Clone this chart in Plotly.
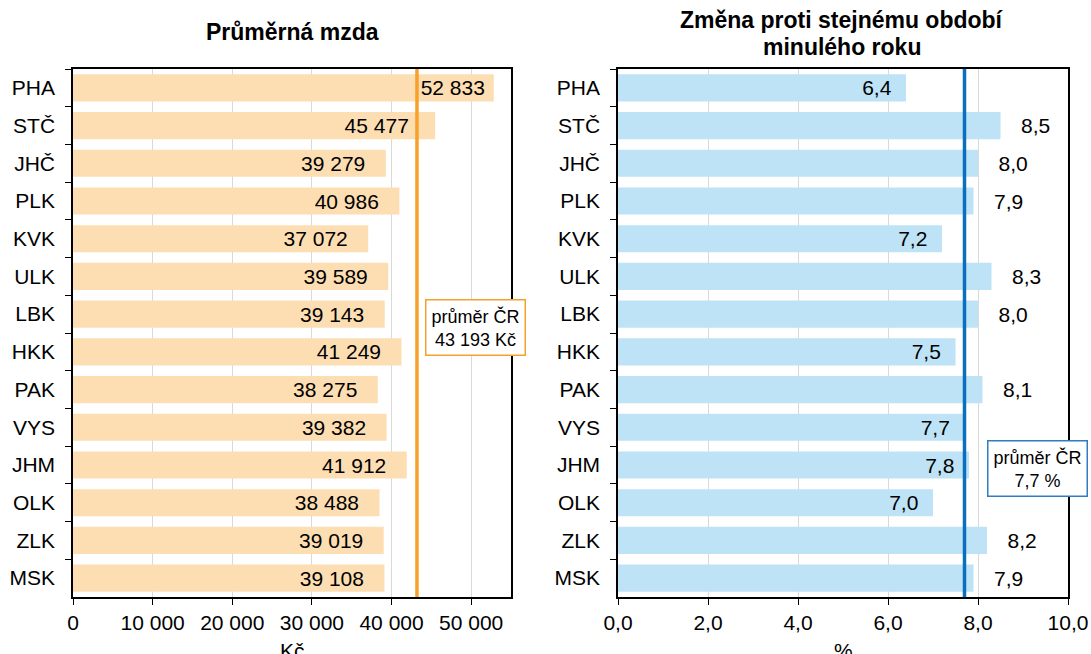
import plotly.graph_objects as go

regions = ["PHA", "STČ", "JHČ", "PLK", "KVK", "ULK", "LBK", "HKK", "PAK", "VYS", "JHM", "OLK", "ZLK", "MSK"]
wage = [52833, 45477, 39279, 40986, 37072, 39589, 39143, 41249, 38275, 39382, 41912, 38488, 39019, 39108]
change = [6.4, 8.5, 8.0, 7.9, 7.2, 8.3, 8.0, 7.5, 8.1, 7.7, 7.8, 7.0, 8.2, 7.9]
avg_wage = 43193
avg_change = 7.7
change_label_pos = ["inside", "outside", "outside", "outside", "inside", "outside", "outside",
                    "inside", "outside", "inside", "inside", "inside", "outside", "outside"]
title_left = "Průměrná mzda"
title_right_1 = "Změna proti stejnému období"
title_right_2 = "minulého roku"
xtitle_left = "Kč"
xtitle_right = "%"

W, H = 1091, 654
FONT = "Liberation Sans, Arial, sans-serif"
FS = 21
NB = "\u00a0"

left_pad = [1, 4, 3, 3, 3, 3, 3, 3, 3, 3, 3, 3, 3, 3]
left_tmpl = ["%{x:,.0f}" + NB * n for n in left_pad]
right_tmpl = [(NB * 3 + "%{x:.1f}") if p == "outside" else ("%{x:.1f}" + NB * 2) for p in change_label_pos]

fig = go.Figure()
fig.add_trace(go.Bar(
    y=regions, x=wage, orientation="h", xaxis="x", yaxis="y",
    marker=dict(color="#FDDEB3", line=dict(width=0)),
    texttemplate=left_tmpl, textposition="inside", insidetextanchor="end",
    textfont=dict(family=FONT, size=FS, color="black"), cliponaxis=False,
    constraintext="none", showlegend=False,
))
fig.add_trace(go.Bar(
    y=regions, x=change, orientation="h", xaxis="x2", yaxis="y2",
    marker=dict(color="#BEE3F6", line=dict(width=0)),
    texttemplate=right_tmpl, textposition=change_label_pos, insidetextanchor="end",
    textfont=dict(family=FONT, size=FS, color="black"),
    insidetextfont=dict(family=FONT, size=FS, color="black"),
    outsidetextfont=dict(family=FONT, size=FS, color="black"),
    cliponaxis=False, constraintext="none",
    showlegend=False,
))

xl = (73 / W, 511 / W)
xr = (618 / W, 1068 / W)
yd = (1 - 597 / H, 1 - 69 / H)

common_x = dict(showline=True, linecolor="black", linewidth=1.5, mirror=True,
                ticks="outside", ticklen=6, tickcolor="black",
                showgrid=True, gridcolor="#D9D9D9", gridwidth=1, zeroline=False,
                tickfont=dict(family=FONT, size=FS, color="black"),
                automargin=False, ticklabeloverflow="allow")
common_y = dict(showline=True, linecolor="black", linewidth=1.5, mirror=True,
                ticks="outside", ticklen=6, tickcolor="black", tickson="boundaries",
                autorange="reversed", showgrid=False,
                tickfont=dict(family=FONT, size=FS, color="black"),
                automargin=False, ticklabelstandoff=12)

fig.update_layout(
    width=W, height=H,
    margin=dict(l=0, r=0, t=0, b=0),
    paper_bgcolor="white", plot_bgcolor="white",
    separators=", ",
    bargap=0.28,
    font=dict(family=FONT, color="black"),
    xaxis=dict(domain=list(xl), anchor="y", range=[0, 55000], dtick=10000, tickformat=",.0f", **common_x),
    yaxis=dict(domain=list(yd), anchor="x", **common_y),
    xaxis2=dict(domain=list(xr), anchor="y2", range=[0, 10], dtick=2, tickformat=".1f", **common_x),
    yaxis2=dict(domain=list(yd), anchor="x2", **common_y),
)

fig.add_shape(type="line", xref="x", yref="y domain", x0=avg_wage, x1=avg_wage, y0=0, y1=1,
              line=dict(color="#F5A12A", width=3.5))
fig.add_shape(type="line", xref="x2", yref="y2 domain", x0=avg_change, x1=avg_change, y0=0, y1=1,
              line=dict(color="#0A70BE", width=3.5))

avg_wage_txt = f"{avg_wage:,}".replace(",", " ")
avg_change_txt = f"{avg_change:.1f}".replace(".", ",")

ann = dict(xref="paper", yref="paper", showarrow=False, xanchor="center", yanchor="middle")
fig.add_annotation(x=475 / W, y=1 - 328 / H, text=f"průměr ČR<br>{avg_wage_txt} Kč",
                   font=dict(family=FONT, size=18, color="black"),
                   bgcolor="white", bordercolor="#F5A12A", borderwidth=1.5, borderpad=5, **ann)
fig.add_annotation(x=1037 / W, y=1 - 468 / H, text=f"průměr ČR<br>{avg_change_txt} %",
                   font=dict(family=FONT, size=18, color="black"),
                   bgcolor="white", bordercolor="#2E7DC0", borderwidth=1.5, borderpad=5, **ann)

fig.add_annotation(x=292 / W, y=1 - 32 / H, text=f"<b>{title_left}</b>",
                   font=dict(family=FONT, size=23, color="black"), **ann)
fig.add_annotation(x=842 / W, y=1 - 20 / H, text=f"<b>{title_right_1}</b>",
                   font=dict(family=FONT, size=23, color="black"), **ann)
fig.add_annotation(x=842 / W, y=1 - 47 / H, text=f"<b>{title_right_2}</b>",
                   font=dict(family=FONT, size=23, color="black"), **ann)

# axis titles (partly below the page edge, as in the reference)
fig.add_annotation(x=292 / W, y=1 - 650 / H, text=xtitle_left,
                   font=dict(family=FONT, size=FS, color="black"), **ann)
fig.add_annotation(x=843 / W, y=1 - 650 / H, text=xtitle_right,
                   font=dict(family=FONT, size=FS, color="black"), **ann)

fig.write_html("out.html", config={"displayModeBar": False},
               post_script="document.body.style.margin='0';")
